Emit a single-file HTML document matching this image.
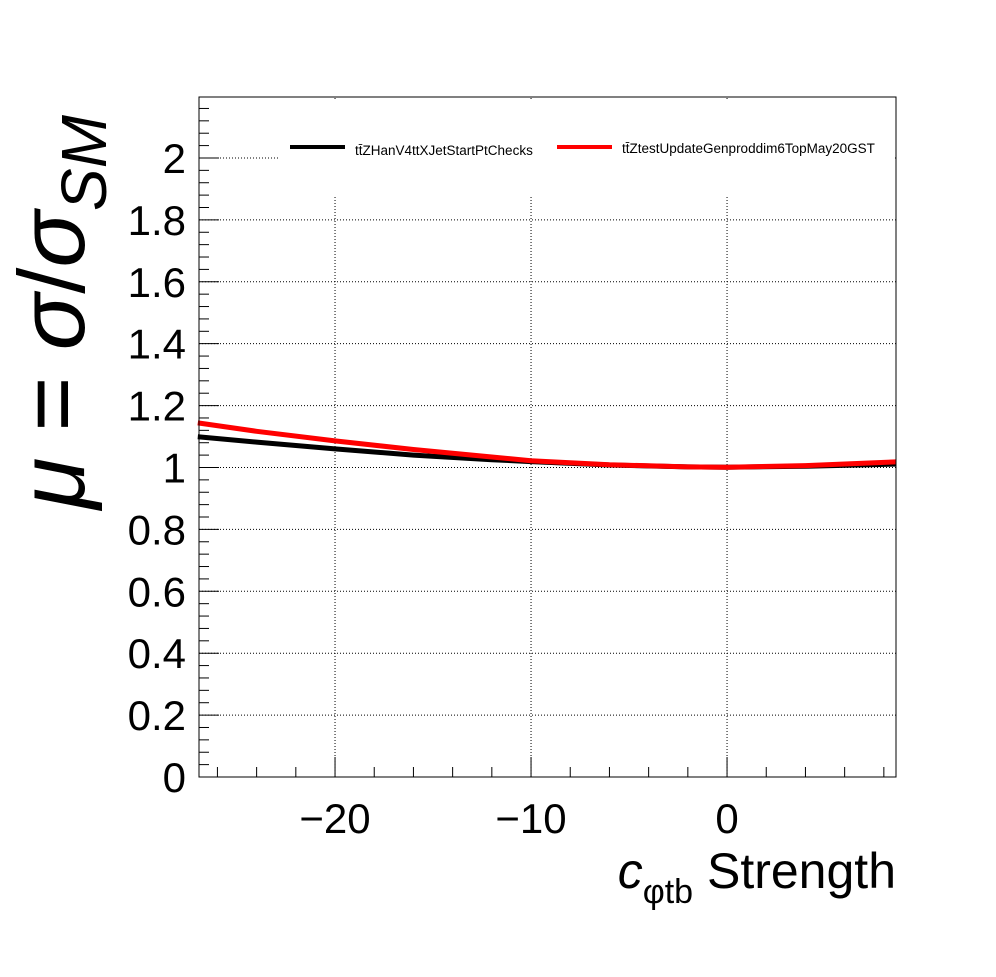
<!DOCTYPE html>
<html><head><meta charset="utf-8"><style>
body{margin:0;background:#fff}
svg text{font-family:"Liberation Sans",sans-serif}
</style></head><body>
<svg width="996" height="972" viewBox="0 0 996 972">
<g id="grid"></g>
<rect x="279" y="100" width="615" height="95" fill="#fff"/>
<g id="series"></g>
<g id="axes"></g>
<rect x="199" y="97" width="697" height="680" fill="none" stroke="#000" stroke-width="1"/>
<g>
<line x1="290" y1="147" x2="345" y2="147" stroke="#000" stroke-width="4"/>
<text x="355" y="155" font-size="13.5">tt̄ZHanV4ttXJetStartPtChecks</text>
<line x1="557" y1="147" x2="612" y2="147" stroke="#f00" stroke-width="4"/>
<text x="622" y="153" font-size="13.5">tt̄ZtestUpdateGenproddim6TopMay20GST</text>
</g>
<text x="896" y="888" font-size="50" text-anchor="end"><tspan font-style="italic">c</tspan><tspan font-size="34" dy="15">φtb</tspan><tspan dy="-15"> Strength</tspan></text>
<text transform="translate(84,312) rotate(-90)" font-size="94" text-anchor="middle"><tspan font-style="italic">μ</tspan> = <tspan font-style="italic">σ</tspan>/<tspan font-style="italic">σ</tspan><tspan font-size="64" dy="22" font-style="italic">SM</tspan></text>
</svg>
<script>
const xTicks=[-20,-10,0];
const xTickLabels=["\u221220","\u221210","0"];
const yTicks=[0,0.2,0.4,0.6,0.8,1,1.2,1.4,1.6,1.8,2];
const yTickLabels=["0","0.2","0.4","0.6","0.8","1","1.2","1.4","1.6","1.8","2"];
const xs=[-27,-24,-20,-16,-12,-10,-6,-2,0,4,8.6];
const blackVals=[1.099,1.082,1.060,1.040,1.025,1.019,1.008,1.002,1.001,1.004,1.011];
const redVals=[1.144,1.117,1.086,1.058,1.034,1.022,1.009,1.002,1.001,1.006,1.018];
const X0=-26.94,X1=8.62,PX0=199,PX1=896,Y0=0,Y1=2.197,PY0=777,PY1=97;
const sx=v=>PX0+(v-X0)/(X1-X0)*(PX1-PX0);
const sy=v=>PY0+(v-Y0)/(Y1-Y0)*(PY1-PY0);
const NS="http://www.w3.org/2000/svg";
function mk(t,a,p){const e=document.createElementNS(NS,t);for(const k in a)e.setAttribute(k,a[k]);p.appendChild(e);return e;}
const grid=document.getElementById('grid'),axes=document.getElementById('axes'),series=document.getElementById('series');
xTicks.forEach((v,i)=>{
 const l=mk('line',{x1:sx(v),x2:sx(v),y1:PY0,y2:PY1,stroke:'#000','stroke-width':1,'stroke-dasharray':'1,2'},grid);
 
 
 const t=mk('line',{x1:sx(v),x2:sx(v),y1:PY0,y2:PY0-20,stroke:'#000'},axes);
 
 
 const tx=mk('text',{x:sx(v),y:833,'font-size':42,'text-anchor':'middle'},axes);
 tx.textContent=xTickLabels[i];
 
 
});
for(let v=-26;v<=8;v+=2){if(v%10===0)continue;
 const t=mk('line',{x1:sx(v),x2:sx(v),y1:PY0,y2:PY0-10,stroke:'#000'},axes);
 
 }
yTicks.forEach((v,i)=>{
 const l=mk('line',{x1:PX0,x2:PX1,y1:sy(v),y2:sy(v),stroke:'#000','stroke-width':1,'stroke-dasharray':'1,2'},grid);
 
 
 const t=mk('line',{x1:PX0,x2:PX0+20,y1:sy(v),y2:sy(v),stroke:'#000'},axes);
 
 
 const tx=mk('text',{x:186,y:sy(v)+15,'font-size':42,'text-anchor':'end'},axes);
 tx.textContent=yTickLabels[i];
 
 
});
for(let k=1;k<55;k++){if(k%5===0)continue;const v=k*0.04;
 const t=mk('line',{x1:PX0,x2:PX0+10,y1:sy(v),y2:sy(v),stroke:'#000'},axes);
 
 }
function path(vals){let d='';xs.forEach((x,i)=>{d+=(i?'L':'M')+sx(x).toFixed(1)+','+sy(vals[i]).toFixed(1);});return d;}
const pb=mk('path',{d:path(blackVals),fill:'none',stroke:'#000','stroke-width':5},series);


const pr=mk('path',{d:path(redVals),fill:'none',stroke:'#f00','stroke-width':5},series);


</script>
</body></html>
